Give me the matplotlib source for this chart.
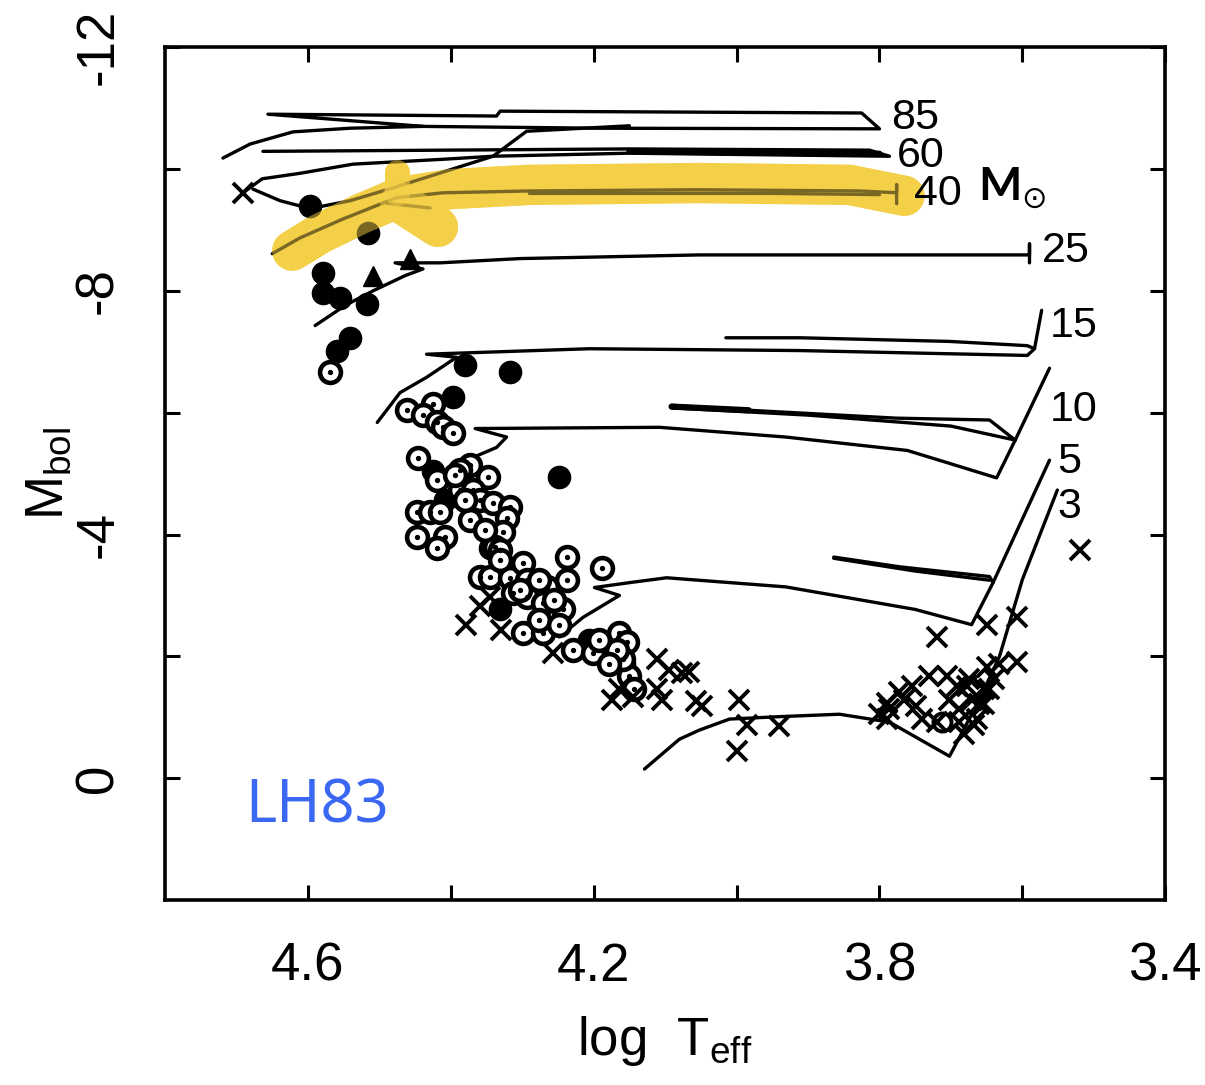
import matplotlib
matplotlib.use('Agg')
import matplotlib.pyplot as plt
from matplotlib.ticker import FixedLocator, FixedFormatter

plt.rcParams['font.family'] = ['Liberation Sans', 'DejaVu Sans']
plt.rcParams['mathtext.fontset'] = 'custom'
plt.rcParams['mathtext.rm'] = 'Liberation Sans'
plt.rcParams['mathtext.it'] = 'Liberation Sans:italic'

# ---------------- evolutionary tracks (log Teff, Mbol) ----------------
track_85_logt = [4.719, 4.681, 4.621, 4.541, 4.439, 4.192, 3.800, 3.825, 4.331, 4.336, 4.656, 4.439]
track_85_mbol = [-10.18, -10.41, -10.61, -10.67, -10.70, -10.67, -10.66, -10.92, -10.95, -10.87, -10.90, -10.70]

track_60_logt = [4.691, 4.664, 4.611, 4.537, 4.411, 4.341, 4.150, 3.786, 3.814, 4.150, 4.663]
track_60_mbol = [-9.61, -9.84, -9.93, -10.08, -10.16, -10.21, -10.26, -10.21, -10.31, -10.33, -10.29]
track_60b_logt = [4.677, 4.639, 4.597, 4.541, 4.481, 4.341, 4.294, 4.150]
track_60b_mbol = [-9.67, -9.48, -9.35, -9.48, -9.69, -10.21, -10.62, -10.71]
thick_60_logt = [4.150, 3.800]
thick_60_mbol = [-10.29, -10.25]

track_40_logt = [4.650, 4.611, 4.551, 4.476, 4.411, 4.290, 4.052, 3.828, 3.776, 3.776, 3.776]
track_40_mbol = [-8.61, -8.87, -9.18, -9.53, -9.61, -9.64, -9.66, -9.64, -9.61, -9.74, -9.43]
track_40b_logt = [4.490, 4.429]
track_40b_mbol = [-9.44, -9.36]
track_40c_logt = [3.800, 3.950, 4.290]
track_40c_mbol = [-9.58, -9.60, -9.60]

track_25_logt = [4.590, 4.548, 4.509, 4.464, 4.439, 4.478, 4.415, 4.303, 4.052, 3.590, 3.590, 3.590]
track_25_mbol = [-7.43, -7.76, -8.00, -8.25, -8.36, -8.46, -8.46, -8.53, -8.59, -8.59, -8.77, -8.46]

track_15_logt = [4.503, 4.471, 4.434, 4.392, 4.434, 4.206, 3.912, 3.593, 3.583, 3.573]
track_15_mbol = [-5.84, -6.33, -6.58, -6.91, -6.96, -7.05, -7.02, -6.94, -7.05, -7.68]
loop_15_logt = [4.015, 3.912, 3.702, 3.593, 3.583]
loop_15_mbol = [-7.23, -7.23, -7.17, -7.10, -7.05]

track_10_logt = [4.394, 4.336, 4.322, 4.366, 4.108, 3.931, 3.761, 3.636, 3.610, 3.562]
track_10_mbol = [-5.14, -5.43, -5.60, -5.74, -5.76, -5.60, -5.38, -4.93, -5.55, -6.73]
loop_10_logt = [4.091, 3.983, 3.776, 3.646, 3.610]
loop_10_mbol = [-6.12, -6.04, -5.91, -5.88, -5.55]
loop_10b_logt = [4.091, 3.900, 3.700, 3.610]
loop_10b_mbol = [-6.08, -5.96, -5.78, -5.55]
thick_10_logt = [4.091, 3.983]
thick_10_mbol = [-6.10, -6.04]

track_5_logt = [4.248, 4.215, 4.164, 4.199, 4.150, 4.098, 3.931, 3.750, 3.671, 3.641, 3.562]
track_5_mbol = [-2.32, -2.64, -3.00, -3.13, -3.21, -3.29, -3.14, -2.77, -2.52, -3.21, -5.22]
loop_5_logt = [3.864, 3.772, 3.646, 3.641]
loop_5_mbol = [-3.63, -3.47, -3.31, -3.21]
loop_5b_logt = [3.864, 3.750, 3.646]
loop_5b_mbol = [-3.61, -3.40, -3.25]

track_3_logt = [4.129, 4.080, 4.052, 4.010, 3.940, 3.856, 3.786, 3.702, 3.660, 3.632, 3.600, 3.551]
track_3_mbol = [-0.15, -0.64, -0.79, -0.97, -1.01, -1.05, -0.92, -0.36, -1.29, -2.00, -3.26, -4.73]

# ---------------- highlighted (yellow) 40 Msun track ----------------
highlight_logt = [4.622, 4.583, 4.527, 4.471, 4.401, 4.290, 4.052, 3.842, 3.765]
highlight_mbol = [-8.66, -8.94, -9.26, -9.54, -9.67, -9.74, -9.77, -9.74, -9.56]
highlight_blob_logt = [4.471, 4.418]
highlight_blob_mbol = [-9.45, -9.05]
highlight_spike_logt = [4.476, 4.476]
highlight_spike_mbol = [-9.60, -9.95]

# ---------------- stars ----------------
filled_logt = [4.597, 4.579, 4.579, 4.555, 4.517, 4.541, 4.559, 4.380, 4.317, 4.397, 4.248,
               4.425, 4.516, 4.408, 4.345, 4.331, 4.206, 4.157]
filled_mbol = [-9.39, -8.30, -7.97, -7.89, -7.79, -7.22, -7.02, -6.78, -6.66, -6.25, -4.94,
               -5.04, -8.95, -4.57, -3.78, -2.77, -2.27, -1.87]

triangle_logt = [4.509, 4.457]
triangle_mbol = [-8.25, -8.53]

dotted_logt = [4.569, 4.425, 4.462, 4.439, 4.420, 4.411, 4.397, 4.446, 4.373, 4.348, 4.420,
               4.387, 4.448, 4.429, 4.415, 4.448, 4.408, 4.420, 4.369, 4.359, 4.341, 4.317,
               4.322, 4.327, 4.338, 4.331, 4.238, 4.189, 4.238, 4.359, 4.345, 4.317, 4.299,
               4.294, 4.266, 4.313, 4.294, 4.271, 4.243, 4.299, 4.271, 4.229, 4.201, 4.164,
               4.154, 4.150, 4.159, 4.168, 4.373, 4.387, 4.352, 4.276, 4.394, 4.380, 4.331,
               4.303, 4.276, 4.255, 4.248, 4.192, 4.178, 4.143]
dotted_mbol = [-6.66, -6.15, -6.04, -5.96, -5.84, -5.76, -5.66, -5.25, -5.14, -4.94, -4.89,
               -4.73, -4.37, -4.37, -4.37, -3.96, -3.96, -3.78, -4.73, -4.57, -4.52, -4.45,
               -4.27, -4.04, -3.80, -3.75, -3.63, -3.45, -3.26, -3.31, -3.31, -3.29, -3.54,
               -3.26, -3.14, -3.04, -2.98, -2.88, -2.77, -2.39, -2.39, -2.11, -2.06, -2.39,
               -2.23, -1.67, -1.95, -2.11, -4.24, -5.06, -4.07, -2.60, -4.97, -4.57, -3.58,
               -3.09, -3.26, -2.93, -2.52, -2.27, -1.87, -1.46]

cross_logt = [4.691, 4.379, 4.359, 4.330, 4.345, 4.257, 4.174, 4.145, 4.164, 4.112, 4.112,
              4.104, 4.076, 4.066, 4.057, 4.048, 3.996, 3.986, 4.000, 3.941, 4.094, 3.719,
              3.649, 3.608, 3.608, 3.650, 3.790, 3.772, 3.754, 3.730, 3.706, 3.740, 3.720,
              3.688, 3.678, 3.670, 3.664, 3.688, 3.790, 3.787, 3.749, 3.692, 3.674, 3.660,
              3.653, 3.520, 3.765, 3.702, 3.653, 3.646, 3.667, 3.639, 3.632, 3.681, 3.800]
cross_mbol = [-9.61, -2.52, -2.82, -2.44, -2.98, -2.06, -1.29, -1.34, -1.46, -1.95, -1.46,
              -1.29, -1.73, -1.75, -1.26, -1.18, -1.29, -0.88, -0.44, -0.85, -1.78, -2.32,
              -2.52, -2.64, -1.91, -1.83, -1.24, -1.41, -1.51, -1.67, -1.67, -0.97, -0.92,
              -1.13, -1.51, -1.29, -0.97, -0.92, -0.97, -1.13, -1.18, -1.51, -1.62, -1.21,
              -1.46, -3.75, -1.29, -1.29, -1.21, -1.46, -0.88, -1.62, -1.87, -0.72, -1.05]

open_logt = [3.713]
open_mbol = [-0.92]

# ---------------- labels ----------------
mass_labels = ['85', '60', '40', '25', '15', '10', '5', '3']
mass_label_logt = [3.783, 3.775, 3.751, 3.572, 3.562, 3.562, 3.551, 3.551]
mass_label_mbol = [-10.83, -10.21, -9.59, -8.66, -7.43, -6.04, -5.19, -4.45]

xtick_major = [4.6, 4.2, 3.8, 3.4]
xtick_labels = ['4.6', '4.2', '3.8', '3.4']
xtick_minor = [4.4, 4.0, 3.6]
ytick_major = [-12, -8, -4, 0]
ytick_labels = ['-12', '-8', '-4', '0']
ytick_minor = [-10, -6, -2]

# ---------------- figure ----------------
fig = plt.figure(figsize=(12.05, 10.85), dpi=100)
ax = fig.add_axes([0.137, 0.1705, 0.830, 0.786])
ax.set_xlim(4.8, 3.4)
ax.set_ylim(2, -12)

yellow = '#f4cf48'
hl_lw = 29
hl_paths = [(highlight_logt, highlight_mbol, hl_lw),
            (highlight_blob_logt, highlight_blob_mbol, hl_lw),
            (highlight_spike_logt, highlight_spike_mbol, 18)]
for lx, ly, w in hl_paths:
    ax.plot(lx, ly, color=yellow, lw=w, solid_capstyle='round',
            solid_joinstyle='round', zorder=1)

line_kw = dict(color='black', lw=2.4, solid_joinstyle='round', solid_capstyle='round', zorder=2)
tracks = [(track_85_logt, track_85_mbol), (track_60_logt, track_60_mbol),
          (track_60b_logt, track_60b_mbol), (track_40_logt, track_40_mbol),
          (track_40b_logt, track_40b_mbol), (track_40c_logt, track_40c_mbol),
          (track_25_logt, track_25_mbol), (track_15_logt, track_15_mbol),
          (loop_15_logt, loop_15_mbol), (track_10_logt, track_10_mbol),
          (loop_10_logt, loop_10_mbol), (loop_10b_logt, loop_10b_mbol),
          (track_5_logt, track_5_mbol), (loop_5_logt, loop_5_mbol),
          (loop_5b_logt, loop_5b_mbol), (track_3_logt, track_3_mbol)]
for tx, ty in tracks:
    ax.plot(tx, ty, **line_kw)
ax.plot(thick_60_logt, thick_60_mbol, color='black', lw=4.5, solid_capstyle='round', zorder=2)
ax.plot(thick_10_logt, thick_10_mbol, color='black', lw=4.5, solid_capstyle='round', zorder=2)

ax.plot(filled_logt, filled_mbol, 'o', ms=16, color='black', zorder=3)
ax.plot(triangle_logt, triangle_mbol, '^', ms=15, color='black', zorder=3)
ax.plot(dotted_logt, dotted_mbol, 'o', ms=15, mfc='white', mec='black', mew=3.3, zorder=3)
ax.plot(dotted_logt, dotted_mbol, 'o', ms=2.8, color='black', zorder=3)
ax.plot(cross_logt, cross_mbol, 'x', ms=14, mew=2.8, color='black', zorder=3)
ax.plot(open_logt, open_mbol, 'o', ms=13, mfc='none', mec='black', mew=2.8, zorder=3)

for lx, ly, w in hl_paths:
    ax.plot(lx, ly, color=yellow, lw=w, alpha=0.5, solid_capstyle='round',
            solid_joinstyle='round', zorder=4)

for lab, lx, ly in zip(mass_labels, mass_label_logt, mass_label_mbol):
    ax.text(lx, ly, lab, fontsize=31, ha='left', va='center', zorder=5)

ax.text(3.662, -9.70, 'M', fontsize=33, fontweight='bold', family='Lato',
        ha='left', va='center', zorder=5)
ax.text(3.601, -9.50, '\u2299', fontsize=22, family='DejaVu Sans',
        ha='left', va='center', zorder=5)

ax.text(4.688, 0.47, 'LH83', fontsize=43, color='#3b68f2', family='Noto Sans',
        ha='left', va='center', zorder=5)

ax.xaxis.set_major_locator(FixedLocator(xtick_major))
ax.xaxis.set_major_formatter(FixedFormatter(xtick_labels))
ax.xaxis.set_minor_locator(FixedLocator(xtick_minor))
ax.yaxis.set_major_locator(FixedLocator(ytick_major))
ax.yaxis.set_major_formatter(FixedFormatter(ytick_labels))
ax.yaxis.set_minor_locator(FixedLocator(ytick_minor))
ax.tick_params(which='both', direction='in', top=True, right=True,
               length=11, width=2.2)
ax.tick_params(axis='x', which='major', labelsize=38, pad=30)
ax.tick_params(axis='y', which='major', labelsize=38, pad=30)
for lbl in ax.get_yticklabels():
    lbl.set_rotation(90)
    lbl.set_va('center')
for sp in ax.spines.values():
    sp.set_linewidth(2.6)

ax.set_xlabel('log  T$_{\\mathrm{eff}}$', fontsize=38, labelpad=16)
ax.set_ylabel('M$_{\\mathrm{bol}}$', fontsize=38, labelpad=0)

fig.savefig('out.png', dpi=100)
